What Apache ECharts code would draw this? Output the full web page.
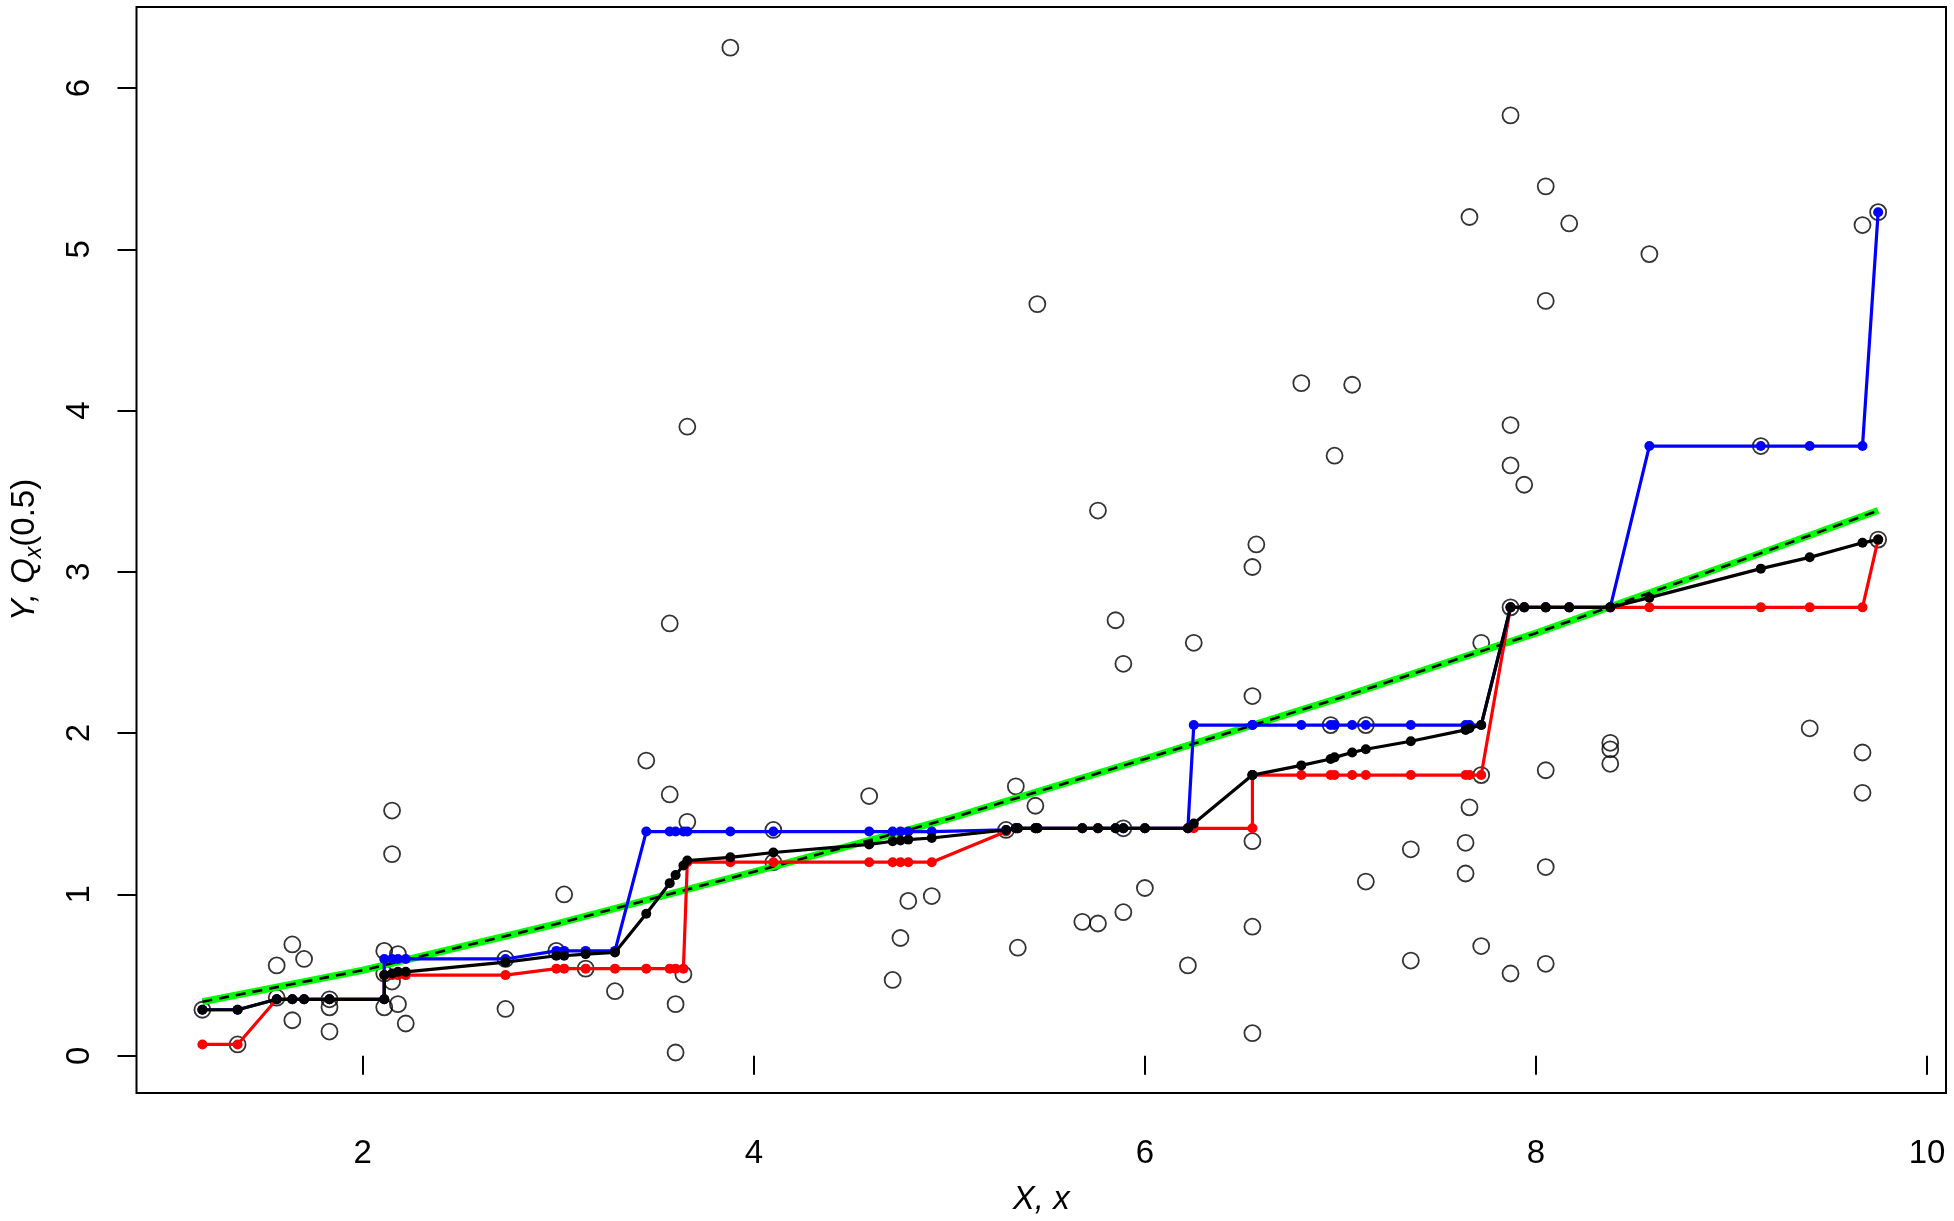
<!DOCTYPE html>
<html>
<head>
<meta charset="utf-8">
<title>Quantile curves</title>
<script src="https://cdn.jsdelivr.net/npm/echarts@6/dist/echarts.min.js"></script>
<style>
  html, body { margin: 0; padding: 0; background: #fff; }
  #chart { width: 1954px; height: 1221px; }
</style>
</head>
<body>
<div id="chart"></div>
<script>
// observed sample (open circles)
const obsX = [1.18, 1.36, 1.56, 1.56, 1.64, 1.70, 1.64, 1.83, 1.83, 1.83,
  2.11, 2.11, 2.11, 2.15, 2.15, 2.18, 2.15, 2.18, 2.22, 2.73,
  2.73, 2.99, 3.03, 3.14, 3.29, 3.45, 3.57, 3.57, 3.60, 3.60,
  3.66, 3.66, 3.64, 3.88, 4.10, 4.10, 4.59, 4.71, 4.75, 4.79,
  4.91, 5.29, 5.34, 5.35, 5.44, 5.45, 5.68, 5.76, 5.76, 5.85,
  5.89, 5.89, 5.89, 6.00, 6.22, 6.25, 6.55, 6.55, 6.57, 6.55,
  6.55, 6.55, 6.80, 6.95, 6.97, 7.06, 7.13, 7.13, 7.36, 7.36,
  7.64, 7.64, 7.66, 7.66, 7.72, 7.72, 7.72, 7.87, 7.87, 7.87,
  7.87, 7.87, 7.94, 8.05, 8.05, 8.05, 8.05, 8.05, 8.17, 8.38,
  8.38, 8.38, 8.58, 9.15, 9.40, 9.67, 9.67, 9.67, 9.75, 9.75];
const obsY = [0.285, 0.07, 0.56, 0.36, 0.69, 0.60, 0.22, 0.35, 0.30, 0.15,
  0.65, 0.51, 0.30, 1.52, 1.25, 0.63, 0.46, 0.32, 0.20, 0.60,
  0.29, 0.65, 1.00, 0.54, 0.40, 1.83, 1.62, 2.68, 0.32, 0.02,
  3.90, 1.45, 0.505, 6.25, 1.40, 1.20, 1.61, 0.47, 0.73, 0.96,
  0.99, 1.40, 1.67, 0.67, 1.55, 4.66, 0.83, 0.82, 3.38, 2.70,
  2.43, 0.89, 1.41, 1.04, 0.56, 2.56, 2.23, 3.03, 3.17, 1.33,
  0.80, 0.14, 4.17, 2.05, 3.72, 4.16, 2.05, 1.08, 1.28, 0.59,
  1.32, 1.13, 5.20, 1.54, 2.56, 1.74, 0.68, 5.83, 3.91, 3.66,
  2.78, 0.51, 3.54, 5.39, 4.68, 1.77, 1.17, 0.57, 5.16, 1.94,
  1.90, 1.81, 4.97, 3.78, 2.03, 5.15, 1.88, 1.63, 5.23, 3.20];

// true conditional median (green)
const trueX = [1.18, 2.0, 3.0, 4.0, 5.0, 6.0, 7.0, 8.0, 9.0, 9.75];
const trueY = [0.335, 0.53, 0.82, 1.14, 1.47, 1.84, 2.22, 2.62, 3.05, 3.38];

// estimated quantile curves at the sample x values
const qX = [1.18, 1.36, 1.56, 1.64, 1.70, 1.83, 2.11, 2.11, 2.15, 2.18,
  2.22, 2.73, 2.99, 3.03, 3.14, 3.29, 3.45, 3.57, 3.60, 3.64,
  3.66, 3.88, 4.10, 4.59, 4.71, 4.75, 4.79, 4.91, 5.29, 5.34,
  5.35, 5.44, 5.45, 5.68, 5.76, 5.85, 5.89, 6.00, 6.22, 6.25,
  6.55, 6.55, 6.80, 6.95, 6.97, 7.06, 7.13, 7.36, 7.64, 7.66,
  7.72, 7.87, 7.94, 8.05, 8.17, 8.38, 8.58, 9.15, 9.40, 9.67, 9.75];
const redY = [0.07, 0.07, 0.35, 0.35, 0.35, 0.35, 0.35, 0.50, 0.50, 0.50,
  0.50, 0.50, 0.54, 0.54, 0.54, 0.54, 0.54, 0.54, 0.54, 0.54,
  1.20, 1.20, 1.20, 1.20, 1.20, 1.20, 1.20, 1.20, 1.39, 1.41,
  1.41, 1.41, 1.41, 1.41, 1.41, 1.41, 1.41, 1.41, 1.41, 1.41,
  1.41, 1.74, 1.74, 1.74, 1.74, 1.74, 1.74, 1.74, 1.74, 1.74,
  1.74, 2.78, 2.78, 2.78, 2.78, 2.78, 2.78, 2.78, 2.78, 2.78, 3.20];
const blueY = [0.285, 0.285, 0.35, 0.35, 0.35, 0.35, 0.35, 0.60, 0.60, 0.60,
  0.60, 0.60, 0.65, 0.65, 0.65, 0.65, 1.39, 1.39, 1.39, 1.39,
  1.39, 1.39, 1.39, 1.39, 1.39, 1.39, 1.39, 1.39, 1.40, 1.41,
  1.41, 1.41, 1.41, 1.41, 1.41, 1.41, 1.41, 1.41, 1.41, 2.05,
  2.05, 2.05, 2.05, 2.05, 2.05, 2.05, 2.05, 2.05, 2.05, 2.05,
  2.05, 2.78, 2.78, 2.78, 2.78, 2.78, 3.78, 3.78, 3.78, 3.78, 5.23];
const blackY = [0.285, 0.285, 0.35, 0.35, 0.35, 0.35, 0.35, 0.50, 0.51, 0.52,
  0.52, 0.58, 0.62, 0.62, 0.63, 0.64, 0.88, 1.07, 1.12, 1.18,
  1.21, 1.23, 1.26, 1.31, 1.33, 1.335, 1.34, 1.35, 1.40, 1.41,
  1.41, 1.41, 1.41, 1.41, 1.41, 1.41, 1.41, 1.41, 1.41, 1.44,
  1.74, 1.74, 1.80, 1.84, 1.85, 1.88, 1.90, 1.95, 2.02, 2.03,
  2.05, 2.78, 2.78, 2.78, 2.78, 2.78, 2.84, 3.02, 3.09, 3.18, 3.20];

const xTicks = [2, 4, 6, 8, 10];
const yTicks = [0, 1, 2, 3, 4, 5, 6];

const pairs = (xs, ys) => xs.map((x, i) => [x, ys[i]]);

const chart = echarts.init(document.getElementById('chart'));
const font = 'Liberation Sans, Arial, Helvetica, sans-serif';

function stepSeries(name, ys, color, z) {
  return {
    name: name,
    type: 'line',
    data: pairs(qX, ys),
    symbol: 'circle',
    symbolSize: 10,
    showAllSymbol: true,
    z: z,
    lineStyle: { color: color, width: 3.2 },
    itemStyle: { color: color, borderWidth: 0 }
  };
}

const option = {
  animation: false,
  backgroundColor: '#fff',
  grid: {
    left: 135, right: 8, top: 7, bottom: 128,
    show: true, borderColor: '#000', borderWidth: 2, backgroundColor: 'transparent'
  },
  xAxis: {
    type: 'value',
    min: 0.843,
    max: 10.097,
    name: 'X, x',
    nameLocation: 'middle',
    nameGap: 90,
    nameTextStyle: { fontSize: 33, fontStyle: 'italic', color: '#000', fontFamily: font },
    axisLine: { show: false },
    splitLine: { show: false },
    axisTick: {
      show: true, inside: false, length: 19, customValues: xTicks,
      lineStyle: { color: '#000', width: 2 }
    },
    axisLabel: {
      customValues: xTicks, fontSize: 33, color: '#000', fontFamily: font, margin: 44
    }
  },
  yAxis: {
    type: 'value',
    min: -0.231,
    max: 6.502,
    name: '{it|Y, Q}{sub|x}{n|(0.5)}',
    nameLocation: 'middle',
    nameRotate: 90,
    nameGap: 90,
    nameTextStyle: {
      fontSize: 33, color: '#000', fontFamily: font,
      rich: {
        it: { fontSize: 33, fontStyle: 'italic', fontFamily: font, lineHeight: 44, verticalAlign: 'middle' },
        sub: { fontSize: 23, fontStyle: 'italic', fontFamily: font, lineHeight: 23, verticalAlign: 'bottom' },
        n: { fontSize: 33, fontFamily: font, lineHeight: 44, verticalAlign: 'middle' }
      }
    },
    axisLine: { show: false },
    splitLine: { show: false },
    axisTick: {
      show: true, inside: false, length: 19, customValues: yTicks,
      lineStyle: { color: '#000', width: 2 }
    },
    axisLabel: {
      customValues: yTicks, rotate: 90, fontSize: 33, color: '#000', fontFamily: font, margin: 40
    }
  },
  series: [
    {
      name: 'data',
      type: 'scatter',
      data: pairs(obsX, obsY),
      symbol: 'circle',
      symbolSize: 16,
      z: 1,
      itemStyle: { color: 'rgba(0,0,0,0)', borderColor: '#000', borderWidth: 1.8 }
    },
    {
      name: 'true',
      type: 'line',
      data: pairs(trueX, trueY),
      showSymbol: false,
      z: 2,
      lineStyle: { color: '#00ff00', width: 7 }
    },
    {
      name: 'true dashed',
      type: 'line',
      data: pairs(trueX, trueY),
      showSymbol: false,
      z: 3,
      lineStyle: { color: '#000', width: 2.6, type: [10, 7] }
    },
    stepSeries('lower', redY, '#ff0000', 4),
    stepSeries('upper', blueY, '#0000ff', 5),
    stepSeries('median', blackY, '#000000', 6)
  ]
};

chart.setOption(option);
</script>
</body>
</html>
